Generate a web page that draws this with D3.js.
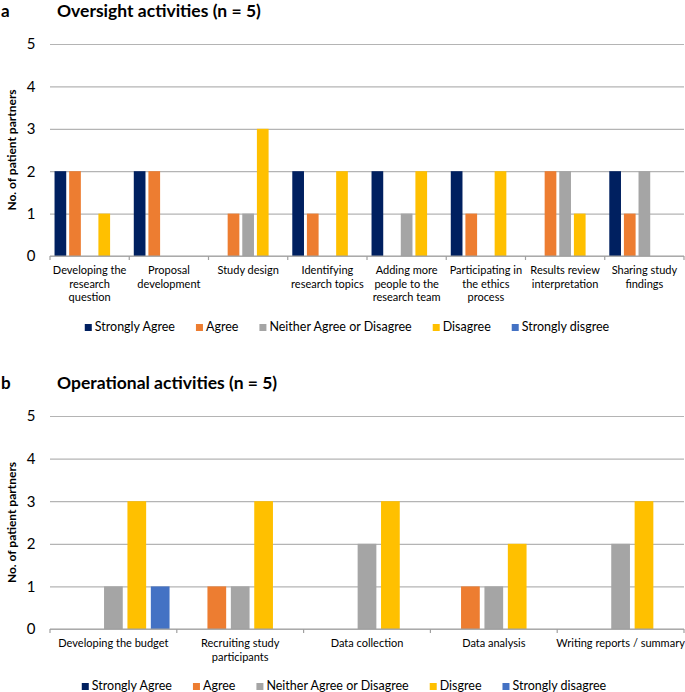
<!DOCTYPE html>
<html>
<head>
<meta charset="utf-8">
<script src="https://cdn.jsdelivr.net/npm/d3@7/dist/d3.min.js"></script>
<style>
  html, body { margin: 0; padding: 0; background: #ffffff; }
  svg { display: block; font-family: Lato, "Open Sans", sans-serif; }
</style>
</head>
<body>
<svg id="chart" width="685" height="692"></svg>
<script>
// ---------- DATA ----------
const seriesNames = ["Strongly Agree", "Agree", "Neither Agree or Disagree", "Disagree", "Strongly disagree"];
const seriesColors = ["#002060", "#ED7D31", "#A5A5A5", "#FFC000", "#4472C4"];

const categoriesA = [
  "Developing the\nresearch\nquestion",
  "Proposal\ndevelopment",
  "Study design",
  "Identifying\nresearch topics",
  "Adding more\npeople to the\nresearch team",
  "Participating in\nthe ethics\nprocess",
  "Results review\ninterpretation",
  "Sharing study\nfindings"
];
const stronglyAgreeA    = [2, 2, 0, 2, 2, 2, 0, 2];
const agreeA            = [2, 2, 1, 1, 0, 1, 2, 1];
const neitherA          = [0, 0, 1, 0, 1, 0, 2, 2];
const disagreeA         = [1, 0, 3, 2, 2, 2, 1, 0];
const stronglyDisagreeA = [0, 0, 0, 0, 0, 0, 0, 0];
const legendLabelsA = ["Strongly Agree", "Agree", "Neither Agree or Disagree", "Disagree", "Strongly disgree"];

const categoriesB = [
  "Developing the budget",
  "Recruiting study\nparticipants",
  "Data collection",
  "Data analysis",
  "Writing reports / summary"
];
const stronglyAgreeB    = [0, 0, 0, 0, 0];
const agreeB            = [0, 1, 0, 1, 0];
const neitherB          = [1, 1, 2, 1, 2];
const disagreeB         = [3, 3, 3, 2, 3];
const stronglyDisagreeB = [1, 0, 0, 0, 0];
const legendLabelsB = ["Strongly Agree", "Agree", "Neither Agree or Disagree", "Disgree", "Strongly disagree"];

const yTicks = [0, 1, 2, 3, 4, 5];
const yAxisTitle = "No. of patient partners";

// ---------- DRAW ----------
const svg = d3.select("#chart");

function drawPanel(cfg) {
  const g = svg.append("g");
  const x0 = d3.scaleBand().domain(d3.range(cfg.categories.length)).range([cfg.left, cfg.right]).paddingInner(0).paddingOuter(0);
  const x1 = d3.scaleBand().domain(d3.range(seriesNames.length)).range([0, x0.bandwidth()]).paddingInner(0.2).paddingOuter(0.31);
  const y = d3.scaleLinear().domain([0, 5]).range([cfg.bottom, cfg.top]);

  // panel letter + title
  g.append("text").attr("x", 1).attr("y", cfg.titleY).attr("font-weight", "bold").attr("font-size", 17).attr("fill", "#000").text(cfg.letter);
  g.append("text").attr("x", 57).attr("y", cfg.titleY).attr("font-weight", "bold").attr("font-size", 17.5).attr("fill", "#000").text(cfg.title);

  // gridlines
  const yAxis = d3.axisLeft(y).tickValues(yTicks).tickFormat(d3.format("d")).tickSize(-(cfg.right - cfg.left)).tickPadding(14);
  const ga = g.append("g").attr("transform", `translate(${cfg.left},0)`).call(yAxis);
  ga.select(".domain").remove();
  ga.selectAll(".tick line").attr("stroke", "#b4b4b4").attr("stroke-width", 1.2);
  ga.selectAll(".tick text").attr("font-size", 15).attr("fill", "#000").attr("font-family", "Lato, sans-serif").attr("text-anchor", "middle").attr("x", -19);

  // y axis title
  g.append("text")
    .attr("transform", `translate(${cfg.yTitleX},${(cfg.top + cfg.bottom) / 2}) rotate(-90)`)
    .attr("text-anchor", "middle").attr("font-weight", "bold").attr("font-size", 12).attr("fill", "#000")
    .text(yAxisTitle);

  // bars
  cfg.series.forEach((vals, si) => {
    g.append("g").selectAll("rect").data(vals).join("rect")
      .attr("x", (d, i) => x0(i) + x1(si))
      .attr("y", d => y(d))
      .attr("width", x1.bandwidth())
      .attr("height", d => y(0) - y(d))
      .attr("fill", seriesColors[si]);
  });

  // x axis line and ticks at group boundaries
  g.append("line").attr("x1", cfg.left).attr("x2", cfg.right).attr("y1", y(0)).attr("y2", y(0)).attr("stroke", "#a0a0a0").attr("stroke-width", 1.2);
  const bounds = d3.range(cfg.categories.length + 1).map(i => cfg.left + i * x0.step());
  g.append("g").selectAll("line").data(bounds).join("line")
    .attr("x1", d => d).attr("x2", d => d).attr("y1", y(0)).attr("y2", y(0) + 4)
    .attr("stroke", "#a0a0a0").attr("stroke-width", 1.2);

  // category labels
  cfg.categories.forEach((c, i) => {
    const lines = c.split("\n");
    const t = g.append("text").attr("text-anchor", "middle").attr("font-size", 11).attr("fill", "#000");
    lines.forEach((ln, k) => {
      t.append("tspan").attr("x", x0(i) + x0.bandwidth() / 2).attr("y", y(0) + cfg.labelOffset + k * 13.5).text(ln);
    });
  });

  // legend
  const lg = g.append("g");
  let cx = 0;
  cfg.legendLabels.forEach((lab, si) => {
    const item = lg.append("g").attr("transform", `translate(${cx},0)`);
    item.append("rect").attr("x", 0).attr("y", -3).attr("width", 7).attr("height", 7).attr("fill", seriesColors[si]);
    const tx = item.append("text").attr("x", 10).attr("y", 0).attr("dy", "0.35em").attr("font-size", 12.5).attr("fill", "#000").text(lab);
    const w = tx.node().getComputedTextLength();
    cx += 10 + w + 21;
  });
  const total = cx - 21;
  lg.attr("transform", `translate(${cfg.legendCenter - total / 2},${cfg.legendY})`);
}

drawPanel({
  letter: "a", title: "Oversight activities (n = 5)", titleY: 17,
  categories: categoriesA,
  series: [stronglyAgreeA, agreeA, neitherA, disagreeA, stronglyDisagreeA],
  legendLabels: legendLabelsA,
  left: 50, right: 684, top: 44, bottom: 256,
  yTitleX: 16, labelOffset: 18, legendY: 327, legendCenter: 347
});

drawPanel({
  letter: "b", title: "Operational activities (n = 5)", titleY: 389,
  categories: categoriesB,
  series: [stronglyAgreeB, agreeB, neitherB, disagreeB, stronglyDisagreeB],
  legendLabels: legendLabelsB,
  left: 50, right: 684, top: 416, bottom: 629,
  yTitleX: 16, labelOffset: 18, legendY: 686, legendCenter: 344
});
</script>
</body>
</html>
